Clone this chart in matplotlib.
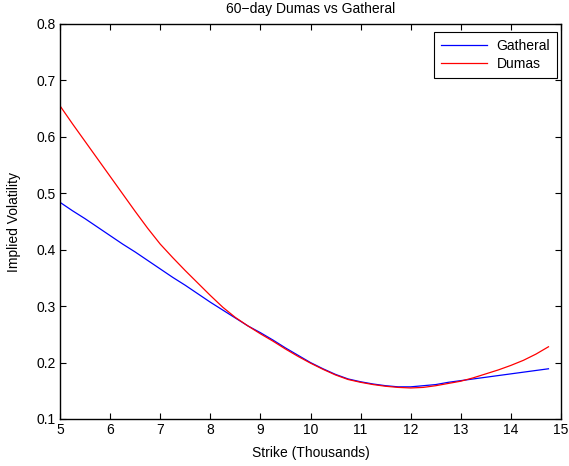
import numpy as np
import matplotlib
matplotlib.use('Agg')
import matplotlib.pyplot as plt

plt.rcParams['font.family'] = ['Liberation Sans', 'DejaVu Sans']

strike = [5.0, 5.25, 5.5, 5.75, 6.0, 6.25, 6.5, 6.75, 7.0, 7.25,
          7.5, 7.75, 8.0, 8.25, 8.5, 8.75, 9.0, 9.25, 9.5, 9.75,
          10.0, 10.25, 10.5, 10.75, 11.0, 11.25, 11.5, 11.75, 12.0, 12.25,
          12.5, 12.75, 13.0, 13.25, 13.5, 13.75, 14.0, 14.25, 14.5, 14.75]

gatheral = [0.484, 0.469, 0.455, 0.440, 0.425, 0.410, 0.396, 0.381, 0.366, 0.351,
            0.337, 0.322, 0.307, 0.293, 0.279, 0.265, 0.253, 0.240, 0.226, 0.213,
            0.200, 0.189, 0.179, 0.171, 0.166, 0.162, 0.159, 0.157, 0.157, 0.159,
            0.161, 0.165, 0.168, 0.171, 0.174, 0.177, 0.180, 0.183, 0.186, 0.189]

dumas = [0.655, 0.623, 0.592, 0.561, 0.530, 0.499, 0.468, 0.438, 0.410, 0.386,
         0.363, 0.341, 0.319, 0.298, 0.280, 0.265, 0.251, 0.238, 0.224, 0.211,
         0.199, 0.188, 0.178, 0.170, 0.165, 0.161, 0.158, 0.156, 0.155, 0.156,
         0.159, 0.163, 0.167, 0.173, 0.180, 0.187, 0.195, 0.204, 0.215, 0.228]

xticks = [5, 6, 7, 8, 9, 10, 11, 12, 13, 14, 15]
yticks = [0.1, 0.2, 0.3, 0.4, 0.5, 0.6, 0.7, 0.8]

fig = plt.figure(figsize=(5.69, 4.66), dpi=100)
ax = fig.add_axes([60 / 569, 47 / 466, 501 / 569, 395 / 466])

ax.plot(strike, gatheral, color='#0000ff', lw=0.9, label='Gatheral')
ax.plot(strike, dumas, color='#ff0000', lw=0.9, label='Dumas')

ax.set_xlim(5, 15)
ax.set_ylim(0.1, 0.8)
ax.set_xticks(xticks)
ax.set_yticks(yticks)
ax.set_xticklabels([str(t) for t in xticks])
ax.set_yticklabels([f'{t:g}' for t in yticks])
ax.tick_params(direction='in', top=True, right=True, length=4, width=0.8,
               labelsize=10, pad=3)
for s in ax.spines.values():
    s.set_linewidth(1.0)

ax.set_title('60\u2212day Dumas vs Gatheral', fontsize=10, pad=8)
ax.set_xlabel('Strike (Thousands)', fontsize=10, labelpad=6)
ax.set_ylabel('Implied Volatility', fontsize=10, labelpad=11)

leg = ax.legend(loc='upper right', bbox_to_anchor=(0.992, 0.980), borderaxespad=0,
                fancybox=False, framealpha=1, edgecolor='black', fontsize=10,
                handlelength=3.3, handletextpad=0.7, borderpad=0.5, labelspacing=0.3)
leg.get_frame().set_linewidth(0.8)

fig.savefig('out.png', dpi=100)
